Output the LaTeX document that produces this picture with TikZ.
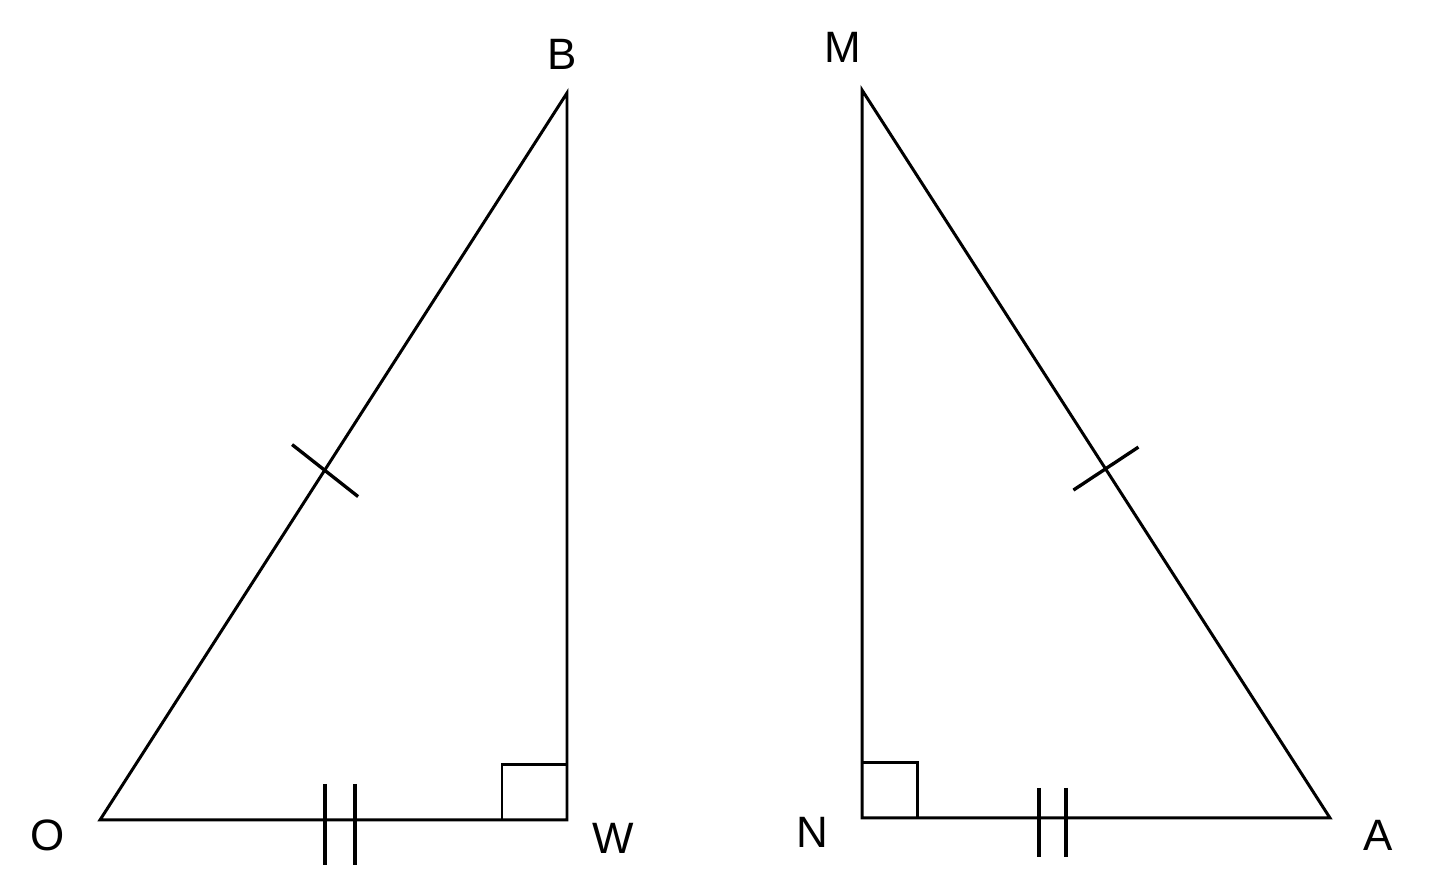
\documentclass[tikz,border=0pt]{standalone}
\usepackage{fontspec}
\setmainfont{Liberation Sans}
\usetikzlibrary{calc}
\begin{document}
\begin{tikzpicture}[line width=0.85pt,
  vlabel/.style={font=\fontsize{12.5}{14}\selectfont},
  tickmark/.style={line width=0.95pt}]
 \useasboundingbox (0,0) rectangle (14.4,8.87);
 % left triangle
 \coordinate (O) at (1.00,0.67);
 \coordinate (W) at (5.67,0.67);
 \coordinate (B) at (5.67,7.94);
 \draw (O) -- (W) -- (B) -- cycle;
 \draw (5.02,0.67) -- (5.02,1.22) -- (5.67,1.22);
 \draw [tickmark] ($(O)!0.482!(B)+(-0.33,0.25)$) -- ($(O)!0.482!(B)+(0.33,-0.27)$);
 \draw [tickmark] (3.25,1.03) -- (3.25,0.22);
 \draw [tickmark] (3.55,1.03) -- (3.55,0.22);
 \node [vlabel] (labB) at (5.62,8.33) {B};
 \node [vlabel] (labO) at (0.48,0.52) {O};
 \node [vlabel] (labW) at (6.13,0.49) {W};
 % right triangle
 \coordinate (M) at (8.62,7.97);
 \coordinate (N) at (8.62,0.69);
 \coordinate (A) at (13.30,0.69);
 \draw (M) -- (N) -- (A) -- cycle;
 \draw (8.62,1.24) -- (9.17,1.24) -- (9.17,0.69);
 \draw [tickmark] ($(M)!0.518!(A)+(-0.31,-0.23)$) -- ($(M)!0.518!(A)+(0.34,0.20)$);
 \draw [tickmark] (10.39,0.99) -- (10.39,0.30);
 \draw [tickmark] (10.66,0.99) -- (10.66,0.30);
 \node [vlabel] (labM) at (8.43,8.40) {M};
 \node [vlabel] (labN) at (8.12,0.55) {N};
 \node [vlabel] (labA) at (13.78,0.52) {A};
\end{tikzpicture}
\end{document}
